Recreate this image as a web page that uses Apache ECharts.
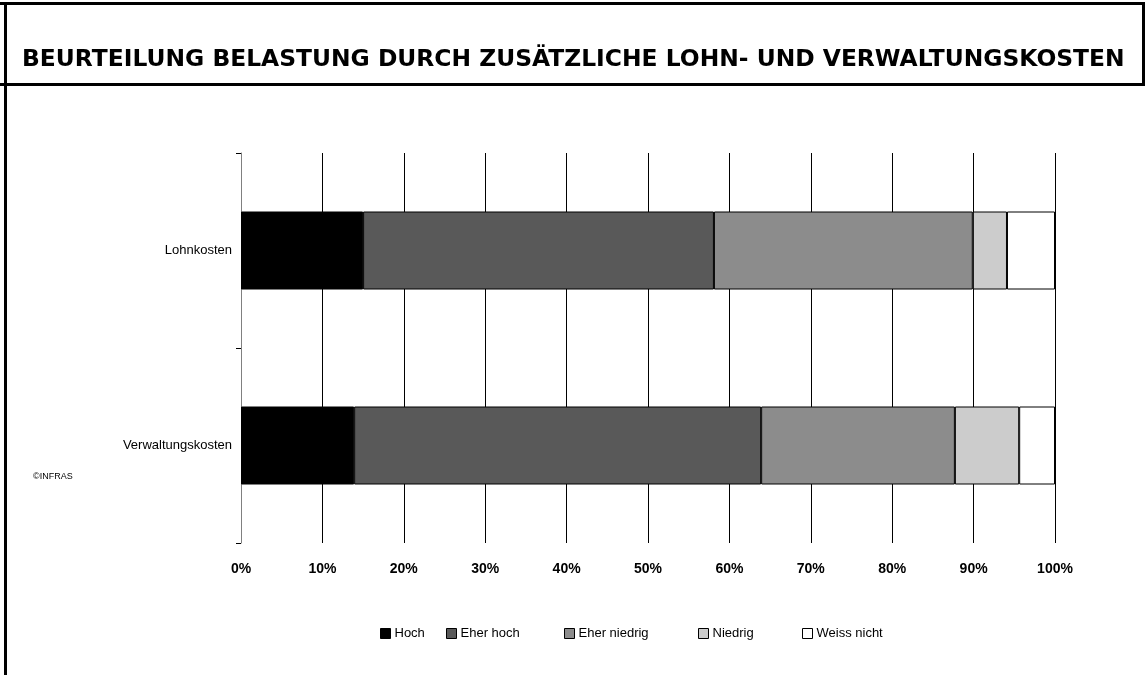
<!DOCTYPE html>
<html>
<head>
<meta charset="utf-8">
<script src="https://cdn.jsdelivr.net/npm/echarts@6/dist/echarts.min.js"></script>
<style>
  html, body { margin: 0; padding: 0; background: #fff; }
  #chart { width: 1145px; height: 675px; }
</style>
</head>
<body>
<div id="chart"></div>
<script>
// data (percent of answers)
const categories = ['Lohnkosten', 'Verwaltungskosten']
const seriesNames = ['Hoch', 'Eher hoch', 'Eher niedrig', 'Niedrig', 'Weiss nicht']
const hoch = [15.0, 13.9]
const eherHoch = [43.1, 50.0]
const eherNiedrig = [31.8, 23.8]
const niedrig = [4.2, 7.9]
const weissNicht = [5.9, 4.4]
const xTicks = [0, 10, 20, 30, 40, 50, 60, 70, 80, 90, 100]

const values = [hoch, eherHoch, eherNiedrig, niedrig, weissNicht]
const colors = ['#000000', '#595959', '#8c8c8c', '#cccccc', '#ffffff']
const legendLeft = [375, 441, 559, 693, 797]

const chart = echarts.init(document.getElementById('chart'))

chart.setOption({
  animation: false,
  backgroundColor: '#fff',
  title: {
    text: 'BEURTEILUNG BELASTUNG DURCH ZUSÄTZLICHE LOHN- UND VERWALTUNGSKOSTEN',
    left: 17,
    top: 43,
    textStyle: {
      fontFamily: 'DejaVu Sans',
      fontWeight: 'bold',
      fontSize: 23.4,
      color: '#000'
    }
  },
  legend: seriesNames.map((name, i) => ({
    data: [name],
    left: legendLeft[i],
    top: 622,
    itemWidth: 10,
    itemHeight: 10,
    itemGap: 0,
    icon: 'rect',
    selectedMode: false,
    itemStyle: { borderColor: '#000', borderWidth: 1 },
    textStyle: { fontFamily: 'Liberation Sans', fontSize: 13, color: '#000', padding: [0, 0, 0, -1] }
  })),
  grid: {
    left: 241,
    right: 90,
    top: 153,
    bottom: 132
  },
  xAxis: {
    type: 'value',
    min: xTicks[0],
    max: xTicks[xTicks.length - 1],
    interval: 10,
    axisLine: { show: false },
    axisTick: { show: false },
    splitLine: { show: true, lineStyle: { color: '#000', width: 1 } },
    axisLabel: {
      formatter: '{value}%',
      margin: 19,
      fontFamily: 'Liberation Sans',
      fontWeight: 'bold',
      fontSize: 14,
      color: '#000'
    }
  },
  yAxis: {
    type: 'category',
    data: categories,
    inverse: true,
    axisLine: { show: true, lineStyle: { color: '#808080', width: 1 } },
    axisTick: { show: true, length: 5, lineStyle: { color: '#000' } },
    axisLabel: {
      margin: 9,
      fontFamily: 'Liberation Sans',
      fontSize: 13,
      color: '#000'
    }
  },
  series: seriesNames.map((name, i) => ({
    name: name,
    type: 'bar',
    stack: 'total',
    barWidth: 78,
    data: values[i],
    itemStyle: { color: colors[i], borderColor: '#000', borderWidth: 1 }
  })),
  graphic: [
    { type: 'line', shape: { x1: 0, y1: 3.5, x2: 1145, y2: 3.5 }, style: { stroke: '#000', lineWidth: 3 } },
    { type: 'line', shape: { x1: 0, y1: 84.5, x2: 1145, y2: 84.5 }, style: { stroke: '#000', lineWidth: 3 } },
    { type: 'line', shape: { x1: 5.5, y1: 2, x2: 5.5, y2: 675 }, style: { stroke: '#000', lineWidth: 3 } },
    { type: 'line', shape: { x1: 1143.5, y1: 2, x2: 1143.5, y2: 86 }, style: { stroke: '#000', lineWidth: 3 } },
    { type: 'text', left: 33, top: 472, style: { text: '©INFRAS', fontFamily: 'Liberation Sans', fontSize: 9, fill: '#000' } }
  ]
})
</script>
</body>
</html>
